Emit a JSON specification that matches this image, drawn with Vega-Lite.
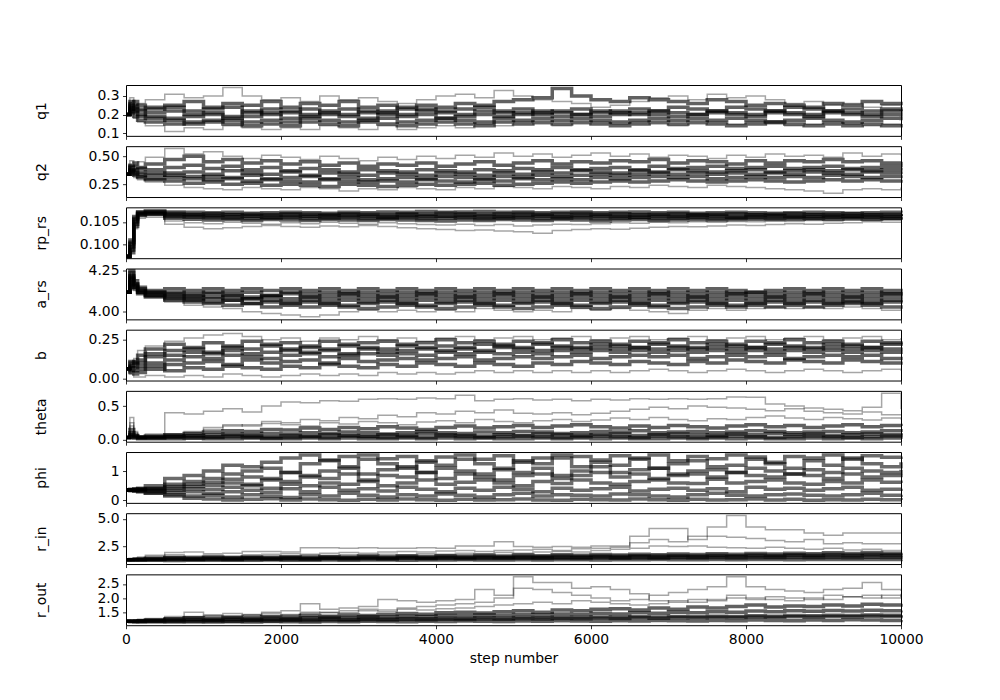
{
"$schema":"https://vega.github.io/schema/vega-lite/v6.json",
"background":"white",
"padding":{"left":33,"top":81,"right":0,"bottom":0},
"spacing":10.17,
"bounds":"flush",
"config":{
"font":"DejaVu Sans",
"view":{"stroke":"black","strokeWidth":1},
"axis":{"domain":false,"grid":false,"ticks":true,"tickColor":"black","tickSize":3.5,"tickWidth":0.8,"labelColor":"black","labelFont":"DejaVu Sans","labelFontSize":13.9,"labelPadding":3.5,"labelOverlap":false,"labelFlush":false,"labelBound":false,"titleColor":"black","titleFont":"DejaVu Sans","titleFontSize":13.9,"titleFontWeight":"normal"},
"axisY":{"titleAngle":270,"titleX":-85,"titleY":25.4,"titleAlign":"center","titleBaseline":"middle","titlePadding":0},
"line":{"color":"black","interpolate":"step-after","clip":true}
},
"datasets":{
"q1":[
{"s":0,"a":0.2,"b":0.2,"c":0.2,"d":0.2,"e":0.2,"f":0.2,"g":0.2,"h":0.2},
{"s":50,"a":0.29,"b":0.26,"c":0.24,"d":0.27,"e":0.22,"f":0.25,"g":0.23,"h":0.21},
{"s":100,"a":0.25,"b":0.27,"c":0.22,"d":0.23,"e":0.19,"f":0.21,"g":0.24,"h":0.18},
{"s":150,"a":0.26,"b":0.23,"c":0.2,"d":0.22,"e":0.17,"f":0.19,"g":0.25,"h":0.16},
{"s":250,"a":0.28,"b":0.24,"c":0.21,"d":0.19,"e":0.16,"f":0.18,"g":0.23,"h":0.14},
{"s":500,"a":0.31,"b":0.25,"c":0.22,"d":0.18,"e":0.15,"f":0.17,"g":0.24,"h":0.11},
{"s":750,"a":0.29,"b":0.27,"c":0.2,"d":0.19,"e":0.16,"f":0.15,"g":0.22,"h":0.13},
{"s":1000,"a":0.3,"b":0.24,"c":0.21,"d":0.2,"e":0.17,"f":0.16,"g":0.23,"h":0.12},
{"s":1250,"a":0.345,"b":0.26,"c":0.19,"d":0.18,"e":0.15,"f":0.17,"g":0.24,"h":0.14},
{"s":1500,"a":0.3,"b":0.25,"c":0.22,"d":0.19,"e":0.16,"f":0.14,"g":0.21,"h":0.13},
{"s":1750,"a":0.28,"b":0.27,"c":0.2,"d":0.21,"e":0.17,"f":0.15,"g":0.23,"h":0.12},
{"s":2000,"a":0.29,"b":0.24,"c":0.21,"d":0.18,"e":0.16,"f":0.14,"g":0.22,"h":0.13},
{"s":2250,"a":0.27,"b":0.26,"c":0.23,"d":0.19,"e":0.18,"f":0.16,"g":0.2,"h":0.12},
{"s":2500,"a":0.3,"b":0.25,"c":0.21,"d":0.2,"e":0.17,"f":0.15,"g":0.22,"h":0.14},
{"s":2750,"a":0.28,"b":0.27,"c":0.2,"d":0.19,"e":0.16,"f":0.14,"g":0.23,"h":0.13},
{"s":3000,"a":0.29,"b":0.24,"c":0.22,"d":0.18,"e":0.17,"f":0.16,"g":0.21,"h":0.12},
{"s":3250,"a":0.27,"b":0.25,"c":0.21,"d":0.2,"e":0.18,"f":0.15,"g":0.22,"h":0.14},
{"s":3500,"a":0.26,"b":0.23,"c":0.2,"d":0.19,"e":0.16,"f":0.14,"g":0.24,"h":0.12},
{"s":3750,"a":0.28,"b":0.25,"c":0.22,"d":0.2,"e":0.17,"f":0.15,"g":0.23,"h":0.13},
{"s":4000,"a":0.3,"b":0.24,"c":0.21,"d":0.18,"e":0.18,"f":0.16,"g":0.22,"h":0.14},
{"s":4250,"a":0.31,"b":0.26,"c":0.2,"d":0.19,"e":0.17,"f":0.15,"g":0.23,"h":0.13},
{"s":4500,"a":0.29,"b":0.25,"c":0.22,"d":0.2,"e":0.16,"f":0.14,"g":0.24,"h":0.15},
{"s":4750,"a":0.33,"b":0.27,"c":0.21,"d":0.19,"e":0.18,"f":0.16,"g":0.22,"h":0.14},
{"s":5000,"a":0.3,"b":0.28,"c":0.2,"d":0.21,"e":0.17,"f":0.15,"g":0.23,"h":0.16},
{"s":5250,"a":0.28,"b":0.29,"c":0.22,"d":0.2,"e":0.18,"f":0.16,"g":0.21,"h":0.15},
{"s":5500,"a":0.27,"b":0.34,"c":0.21,"d":0.19,"e":0.17,"f":0.15,"g":0.22,"h":0.14},
{"s":5750,"a":0.26,"b":0.3,"c":0.2,"d":0.2,"e":0.18,"f":0.16,"g":0.23,"h":0.15},
{"s":6000,"a":0.24,"b":0.28,"c":0.22,"d":0.19,"e":0.17,"f":0.15,"g":0.21,"h":0.16},
{"s":6250,"a":0.25,"b":0.27,"c":0.21,"d":0.2,"e":0.16,"f":0.14,"g":0.22,"h":0.15},
{"s":6500,"a":0.27,"b":0.29,"c":0.2,"d":0.21,"e":0.17,"f":0.15,"g":0.23,"h":0.16},
{"s":6750,"a":0.29,"b":0.28,"c":0.22,"d":0.2,"e":0.18,"f":0.16,"g":0.22,"h":0.15},
{"s":7000,"a":0.3,"b":0.27,"c":0.21,"d":0.19,"e":0.17,"f":0.15,"g":0.24,"h":0.14},
{"s":7250,"a":0.28,"b":0.26,"c":0.2,"d":0.2,"e":0.18,"f":0.16,"g":0.23,"h":0.15},
{"s":7500,"a":0.31,"b":0.28,"c":0.22,"d":0.21,"e":0.17,"f":0.15,"g":0.22,"h":0.16},
{"s":7750,"a":0.29,"b":0.27,"c":0.21,"d":0.2,"e":0.18,"f":0.14,"g":0.24,"h":0.15},
{"s":8000,"a":0.3,"b":0.25,"c":0.2,"d":0.19,"e":0.17,"f":0.15,"g":0.23,"h":0.16},
{"s":8250,"a":0.28,"b":0.26,"c":0.22,"d":0.21,"e":0.16,"f":0.16,"g":0.22,"h":0.15},
{"s":8500,"a":0.26,"b":0.25,"c":0.21,"d":0.2,"e":0.17,"f":0.15,"g":0.24,"h":0.14},
{"s":8750,"a":0.27,"b":0.24,"c":0.2,"d":0.19,"e":0.18,"f":0.14,"g":0.23,"h":0.15},
{"s":9000,"a":0.25,"b":0.26,"c":0.22,"d":0.21,"e":0.17,"f":0.15,"g":0.22,"h":0.16},
{"s":9250,"a":0.26,"b":0.25,"c":0.21,"d":0.2,"e":0.16,"f":0.14,"g":0.23,"h":0.15},
{"s":9500,"a":0.24,"b":0.27,"c":0.2,"d":0.19,"e":0.17,"f":0.15,"g":0.22,"h":0.14},
{"s":9750,"a":0.25,"b":0.26,"c":0.22,"d":0.2,"e":0.18,"f":0.14,"g":0.23,"h":0.15},
{"s":10000,"a":0.24,"b":0.25,"c":0.21,"d":0.19,"e":0.17,"f":0.15,"g":0.22,"h":0.14}
],
"q2":[
{"s":0,"a":0.34,"b":0.34,"c":0.34,"d":0.34,"e":0.34,"f":0.34,"g":0.34,"h":0.34},
{"s":50,"a":0.46,"b":0.42,"c":0.4,"d":0.38,"e":0.36,"f":0.41,"g":0.37,"h":0.35},
{"s":100,"a":0.42,"b":0.44,"c":0.37,"d":0.35,"e":0.33,"f":0.38,"g":0.34,"h":0.31},
{"s":150,"a":0.45,"b":0.4,"c":0.39,"d":0.34,"e":0.31,"f":0.36,"g":0.32,"h":0.29},
{"s":250,"a":0.49,"b":0.43,"c":0.38,"d":0.33,"e":0.3,"f":0.35,"g":0.29,"h":0.27},
{"s":500,"a":0.57,"b":0.47,"c":0.4,"d":0.35,"e":0.31,"f":0.33,"g":0.28,"h":0.24},
{"s":750,"a":0.52,"b":0.5,"c":0.42,"d":0.36,"e":0.3,"f":0.32,"g":0.26,"h":0.22},
{"s":1000,"a":0.54,"b":0.45,"c":0.39,"d":0.34,"e":0.32,"f":0.29,"g":0.27,"h":0.21},
{"s":1250,"a":0.5,"b":0.47,"c":0.41,"d":0.37,"e":0.31,"f":0.3,"g":0.25,"h":0.2},
{"s":1500,"a":0.48,"b":0.44,"c":0.38,"d":0.35,"e":0.33,"f":0.28,"g":0.26,"h":0.22},
{"s":1750,"a":0.51,"b":0.46,"c":0.4,"d":0.34,"e":0.3,"f":0.29,"g":0.24,"h":0.21},
{"s":2000,"a":0.49,"b":0.43,"c":0.37,"d":0.36,"e":0.31,"f":0.28,"g":0.25,"h":0.2},
{"s":2250,"a":0.47,"b":0.45,"c":0.39,"d":0.33,"e":0.32,"f":0.27,"g":0.24,"h":0.22},
{"s":2500,"a":0.5,"b":0.42,"c":0.38,"d":0.35,"e":0.3,"f":0.29,"g":0.23,"h":0.21},
{"s":2750,"a":0.48,"b":0.44,"c":0.36,"d":0.34,"e":0.31,"f":0.28,"g":0.25,"h":0.19},
{"s":3000,"a":0.46,"b":0.41,"c":0.38,"d":0.33,"e":0.29,"f":0.27,"g":0.24,"h":0.21},
{"s":3250,"a":0.49,"b":0.43,"c":0.37,"d":0.35,"e":0.3,"f":0.28,"g":0.23,"h":0.2},
{"s":3500,"a":0.47,"b":0.42,"c":0.36,"d":0.34,"e":0.31,"f":0.27,"g":0.24,"h":0.22},
{"s":3750,"a":0.5,"b":0.44,"c":0.38,"d":0.33,"e":0.3,"f":0.29,"g":0.25,"h":0.21},
{"s":4000,"a":0.48,"b":0.41,"c":0.37,"d":0.35,"e":0.32,"f":0.28,"g":0.24,"h":0.2},
{"s":4250,"a":0.51,"b":0.43,"c":0.36,"d":0.34,"e":0.31,"f":0.27,"g":0.25,"h":0.22},
{"s":4500,"a":0.49,"b":0.45,"c":0.38,"d":0.33,"e":0.3,"f":0.29,"g":0.26,"h":0.21},
{"s":4750,"a":0.53,"b":0.42,"c":0.37,"d":0.35,"e":0.32,"f":0.28,"g":0.24,"h":0.23},
{"s":5000,"a":0.5,"b":0.44,"c":0.39,"d":0.34,"e":0.31,"f":0.3,"g":0.25,"h":0.22},
{"s":5250,"a":0.52,"b":0.46,"c":0.38,"d":0.36,"e":0.33,"f":0.29,"g":0.26,"h":0.21},
{"s":5500,"a":0.49,"b":0.43,"c":0.4,"d":0.35,"e":0.32,"f":0.3,"g":0.27,"h":0.23},
{"s":5750,"a":0.51,"b":0.45,"c":0.38,"d":0.37,"e":0.33,"f":0.29,"g":0.26,"h":0.22},
{"s":6000,"a":0.53,"b":0.44,"c":0.39,"d":0.36,"e":0.34,"f":0.31,"g":0.27,"h":0.21},
{"s":6250,"a":0.5,"b":0.46,"c":0.4,"d":0.35,"e":0.33,"f":0.3,"g":0.28,"h":0.23},
{"s":6500,"a":0.52,"b":0.45,"c":0.38,"d":0.37,"e":0.34,"f":0.31,"g":0.27,"h":0.22},
{"s":6750,"a":0.49,"b":0.47,"c":0.41,"d":0.36,"e":0.35,"f":0.32,"g":0.28,"h":0.24},
{"s":7000,"a":0.51,"b":0.44,"c":0.39,"d":0.38,"e":0.34,"f":0.31,"g":0.29,"h":0.23},
{"s":7250,"a":0.5,"b":0.46,"c":0.4,"d":0.37,"e":0.35,"f":0.32,"g":0.28,"h":0.22},
{"s":7500,"a":0.48,"b":0.45,"c":0.41,"d":0.36,"e":0.34,"f":0.3,"g":0.27,"h":0.24},
{"s":7750,"a":0.51,"b":0.43,"c":0.39,"d":0.37,"e":0.35,"f":0.31,"g":0.28,"h":0.23},
{"s":8000,"a":0.49,"b":0.46,"c":0.4,"d":0.38,"e":0.34,"f":0.32,"g":0.29,"h":0.22},
{"s":8250,"a":0.52,"b":0.44,"c":0.41,"d":0.36,"e":0.35,"f":0.31,"g":0.28,"h":0.21},
{"s":8500,"a":0.5,"b":0.46,"c":0.39,"d":0.37,"e":0.34,"f":0.32,"g":0.27,"h":0.2},
{"s":8750,"a":0.51,"b":0.45,"c":0.4,"d":0.38,"e":0.36,"f":0.31,"g":0.28,"h":0.19},
{"s":9000,"a":0.49,"b":0.47,"c":0.41,"d":0.37,"e":0.35,"f":0.33,"g":0.29,"h":0.17},
{"s":9250,"a":0.53,"b":0.45,"c":0.39,"d":0.38,"e":0.34,"f":0.32,"g":0.28,"h":0.2},
{"s":9500,"a":0.5,"b":0.46,"c":0.4,"d":0.37,"e":0.36,"f":0.31,"g":0.29,"h":0.21},
{"s":9750,"a":0.52,"b":0.44,"c":0.41,"d":0.38,"e":0.35,"f":0.32,"g":0.28,"h":0.2},
{"s":10000,"a":0.51,"b":0.45,"c":0.4,"d":0.37,"e":0.34,"f":0.33,"g":0.29,"h":0.22}
],
"rp":[
{"s":0,"a":0.0974,"b":0.0973,"c":0.0975,"d":0.0974,"e":0.0973,"f":0.0974,"g":0.0975,"h":0.0974},
{"s":50,"a":0.1002,"b":0.0988,"c":0.101,"d":0.0995,"e":0.0982,"f":0.1005,"g":0.0992,"h":0.0985},
{"s":100,"a":0.1058,"b":0.1045,"c":0.1062,"d":0.105,"e":0.104,"f":0.1055,"g":0.1048,"h":0.1035},
{"s":150,"a":0.1071,"b":0.1068,"c":0.1072,"d":0.1066,"e":0.1064,"f":0.1069,"g":0.1063,"h":0.1058},
{"s":250,"a":0.1074,"b":0.1071,"c":0.1073,"d":0.1069,"e":0.1067,"f":0.1068,"g":0.1064,"h":0.106},
{"s":500,"a":0.1072,"b":0.1069,"c":0.1066,"d":0.1064,"e":0.1061,"f":0.1058,"g":0.1052,"h":0.1045},
{"s":750,"a":0.1071,"b":0.1067,"c":0.1065,"d":0.1063,"e":0.106,"f":0.1056,"g":0.1048,"h":0.1038},
{"s":1000,"a":0.107,"b":0.1068,"c":0.1064,"d":0.1062,"e":0.1059,"f":0.1054,"g":0.1046,"h":0.1035},
{"s":1250,"a":0.1071,"b":0.1066,"c":0.1065,"d":0.1061,"e":0.1058,"f":0.1055,"g":0.1049,"h":0.1037},
{"s":1500,"a":0.1069,"b":0.1067,"c":0.1063,"d":0.1062,"e":0.1057,"f":0.1053,"g":0.1047,"h":0.104},
{"s":1750,"a":0.107,"b":0.1066,"c":0.1064,"d":0.106,"e":0.1058,"f":0.1055,"g":0.1045,"h":0.1042},
{"s":2000,"a":0.1071,"b":0.1068,"c":0.1065,"d":0.1061,"e":0.1059,"f":0.1054,"g":0.1048,"h":0.104},
{"s":2250,"a":0.107,"b":0.1067,"c":0.1063,"d":0.1062,"e":0.1057,"f":0.1053,"g":0.1046,"h":0.1038},
{"s":2500,"a":0.1069,"b":0.1066,"c":0.1064,"d":0.1061,"e":0.1058,"f":0.1055,"g":0.1049,"h":0.1041},
{"s":2750,"a":0.1071,"b":0.1068,"c":0.1065,"d":0.1062,"e":0.1059,"f":0.1054,"g":0.1047,"h":0.1039},
{"s":3000,"a":0.107,"b":0.1067,"c":0.1064,"d":0.1061,"e":0.1057,"f":0.1053,"g":0.1045,"h":0.1042},
{"s":3250,"a":0.1072,"b":0.1066,"c":0.1063,"d":0.106,"e":0.1058,"f":0.1055,"g":0.1048,"h":0.104},
{"s":3500,"a":0.1071,"b":0.1068,"c":0.1065,"d":0.1062,"e":0.1059,"f":0.1054,"g":0.1046,"h":0.1037},
{"s":3750,"a":0.1073,"b":0.1067,"c":0.1064,"d":0.1061,"e":0.1057,"f":0.1053,"g":0.1044,"h":0.1035},
{"s":4000,"a":0.1071,"b":0.1069,"c":0.1063,"d":0.1062,"e":0.1058,"f":0.1052,"g":0.1043,"h":0.1033},
{"s":4250,"a":0.1072,"b":0.1068,"c":0.1065,"d":0.1061,"e":0.1059,"f":0.1054,"g":0.1045,"h":0.1031},
{"s":4500,"a":0.1073,"b":0.1067,"c":0.1064,"d":0.106,"e":0.1057,"f":0.1053,"g":0.1042,"h":0.1032},
{"s":4750,"a":0.1071,"b":0.1068,"c":0.1063,"d":0.1062,"e":0.1058,"f":0.1055,"g":0.1044,"h":0.103},
{"s":5000,"a":0.1072,"b":0.1069,"c":0.1065,"d":0.1061,"e":0.1059,"f":0.1054,"g":0.1041,"h":0.1028},
{"s":5250,"a":0.107,"b":0.1067,"c":0.1064,"d":0.1062,"e":0.1057,"f":0.1053,"g":0.1043,"h":0.1025},
{"s":5500,"a":0.1071,"b":0.1068,"c":0.1063,"d":0.1061,"e":0.1058,"f":0.1055,"g":0.1045,"h":0.1031},
{"s":5750,"a":0.1072,"b":0.1069,"c":0.1065,"d":0.1062,"e":0.1059,"f":0.1054,"g":0.1044,"h":0.1033},
{"s":6000,"a":0.107,"b":0.1067,"c":0.1064,"d":0.1061,"e":0.1057,"f":0.1052,"g":0.1046,"h":0.1035},
{"s":6250,"a":0.1071,"b":0.1068,"c":0.1063,"d":0.1062,"e":0.1058,"f":0.1054,"g":0.1048,"h":0.1034},
{"s":6500,"a":0.1072,"b":0.1066,"c":0.1065,"d":0.106,"e":0.1059,"f":0.1055,"g":0.1047,"h":0.1036},
{"s":6750,"a":0.107,"b":0.1067,"c":0.1064,"d":0.1061,"e":0.1057,"f":0.1053,"g":0.1049,"h":0.1038},
{"s":7000,"a":0.1071,"b":0.1068,"c":0.1063,"d":0.1062,"e":0.1058,"f":0.1054,"g":0.1048,"h":0.104},
{"s":7250,"a":0.1069,"b":0.1066,"c":0.1065,"d":0.1061,"e":0.1059,"f":0.1055,"g":0.105,"h":0.1039},
{"s":7500,"a":0.107,"b":0.1067,"c":0.1064,"d":0.1062,"e":0.1057,"f":0.1054,"g":0.1049,"h":0.1041},
{"s":7750,"a":0.1071,"b":0.1068,"c":0.1063,"d":0.106,"e":0.1058,"f":0.1055,"g":0.1051,"h":0.1043},
{"s":8000,"a":0.107,"b":0.1066,"c":0.1065,"d":0.1061,"e":0.1059,"f":0.1056,"g":0.105,"h":0.1042},
{"s":8250,"a":0.1069,"b":0.1067,"c":0.1064,"d":0.1062,"e":0.1058,"f":0.1055,"g":0.1052,"h":0.1044},
{"s":8500,"a":0.107,"b":0.1068,"c":0.1063,"d":0.1061,"e":0.1059,"f":0.1056,"g":0.1051,"h":0.1046},
{"s":8750,"a":0.1071,"b":0.1066,"c":0.1065,"d":0.1062,"e":0.1058,"f":0.1057,"g":0.1053,"h":0.1045},
{"s":9000,"a":0.107,"b":0.1067,"c":0.1064,"d":0.1061,"e":0.1059,"f":0.1056,"g":0.1052,"h":0.1047},
{"s":9250,"a":0.1069,"b":0.1068,"c":0.1063,"d":0.1062,"e":0.106,"f":0.1057,"g":0.1054,"h":0.1048},
{"s":9500,"a":0.107,"b":0.1066,"c":0.1065,"d":0.1061,"e":0.1059,"f":0.1056,"g":0.1053,"h":0.105},
{"s":9750,"a":0.1071,"b":0.1067,"c":0.1064,"d":0.1062,"e":0.1058,"f":0.1057,"g":0.1055,"h":0.1049},
{"s":10000,"a":0.107,"b":0.1068,"c":0.1063,"d":0.1061,"e":0.106,"f":0.1056,"g":0.1054,"h":0.1051}
],
"ars":[
{"s":0,"a":4.12,"b":4.12,"c":4.12,"d":4.12,"e":4.12,"f":4.12,"g":4.12,"h":4.12},
{"s":50,"a":4.24,"b":4.2,"c":4.25,"d":4.18,"e":4.22,"f":4.16,"g":4.21,"h":4.19},
{"s":100,"a":4.17,"b":4.19,"c":4.15,"d":4.16,"e":4.14,"f":4.15,"g":4.17,"h":4.13},
{"s":150,"a":4.14,"b":4.15,"c":4.13,"d":4.12,"e":4.13,"f":4.11,"g":4.12,"h":4.11},
{"s":250,"a":4.13,"b":4.12,"c":4.12,"d":4.11,"e":4.1,"f":4.1,"g":4.09,"h":4.09},
{"s":500,"a":4.14,"b":4.12,"c":4.11,"d":4.1,"e":4.09,"f":4.08,"g":4.07,"h":4.06},
{"s":750,"a":4.13,"b":4.11,"c":4.1,"d":4.09,"e":4.08,"f":4.07,"g":4.06,"h":4.04},
{"s":1000,"a":4.14,"b":4.12,"c":4.11,"d":4.08,"e":4.09,"f":4.06,"g":4.05,"h":4.03},
{"s":1250,"a":4.13,"b":4.11,"c":4.1,"d":4.09,"e":4.07,"f":4.07,"g":4.04,"h":4.02},
{"s":1500,"a":4.14,"b":4.12,"c":4.09,"d":4.08,"e":4.08,"f":4.05,"g":4.05,"h":4.0},
{"s":1750,"a":4.13,"b":4.1,"c":4.1,"d":4.09,"e":4.07,"f":4.06,"g":4.03,"h":3.99},
{"s":2000,"a":4.14,"b":4.12,"c":4.11,"d":4.08,"e":4.06,"f":4.05,"g":4.04,"h":3.98},
{"s":2250,"a":4.13,"b":4.11,"c":4.09,"d":4.09,"e":4.07,"f":4.06,"g":4.03,"h":3.97},
{"s":2500,"a":4.14,"b":4.12,"c":4.1,"d":4.08,"e":4.06,"f":4.05,"g":4.04,"h":3.98},
{"s":2750,"a":4.13,"b":4.11,"c":4.11,"d":4.09,"e":4.07,"f":4.04,"g":4.03,"h":4.0},
{"s":3000,"a":4.14,"b":4.12,"c":4.1,"d":4.08,"e":4.06,"f":4.05,"g":4.02,"h":4.01},
{"s":3250,"a":4.13,"b":4.11,"c":4.09,"d":4.09,"e":4.07,"f":4.06,"g":4.03,"h":4.0},
{"s":3500,"a":4.14,"b":4.12,"c":4.1,"d":4.08,"e":4.06,"f":4.05,"g":4.04,"h":4.01},
{"s":3750,"a":4.13,"b":4.11,"c":4.11,"d":4.09,"e":4.07,"f":4.04,"g":4.03,"h":4.0},
{"s":4000,"a":4.14,"b":4.12,"c":4.1,"d":4.08,"e":4.06,"f":4.05,"g":4.02,"h":4.01},
{"s":4250,"a":4.13,"b":4.11,"c":4.09,"d":4.09,"e":4.07,"f":4.06,"g":4.03,"h":4.0},
{"s":4500,"a":4.14,"b":4.12,"c":4.1,"d":4.08,"e":4.06,"f":4.05,"g":4.04,"h":4.02},
{"s":4750,"a":4.13,"b":4.11,"c":4.11,"d":4.09,"e":4.07,"f":4.04,"g":4.03,"h":4.01},
{"s":5000,"a":4.14,"b":4.12,"c":4.1,"d":4.08,"e":4.06,"f":4.05,"g":4.02,"h":4.0},
{"s":5250,"a":4.13,"b":4.11,"c":4.09,"d":4.09,"e":4.07,"f":4.06,"g":4.03,"h":4.01},
{"s":5500,"a":4.14,"b":4.12,"c":4.1,"d":4.08,"e":4.06,"f":4.05,"g":4.04,"h":4.0},
{"s":5750,"a":4.13,"b":4.11,"c":4.11,"d":4.09,"e":4.07,"f":4.04,"g":4.03,"h":4.02},
{"s":6000,"a":4.14,"b":4.12,"c":4.1,"d":4.08,"e":4.06,"f":4.05,"g":4.02,"h":4.01},
{"s":6250,"a":4.13,"b":4.11,"c":4.09,"d":4.09,"e":4.07,"f":4.06,"g":4.03,"h":4.02},
{"s":6500,"a":4.14,"b":4.12,"c":4.1,"d":4.08,"e":4.06,"f":4.05,"g":4.04,"h":4.01},
{"s":6750,"a":4.13,"b":4.11,"c":4.11,"d":4.09,"e":4.07,"f":4.04,"g":4.03,"h":4.0},
{"s":7000,"a":4.14,"b":4.12,"c":4.1,"d":4.08,"e":4.06,"f":4.05,"g":4.02,"h":3.99},
{"s":7250,"a":4.13,"b":4.11,"c":4.09,"d":4.09,"e":4.07,"f":4.06,"g":4.03,"h":4.01},
{"s":7500,"a":4.14,"b":4.12,"c":4.1,"d":4.08,"e":4.06,"f":4.05,"g":4.04,"h":4.02},
{"s":7750,"a":4.13,"b":4.11,"c":4.11,"d":4.09,"e":4.07,"f":4.04,"g":4.03,"h":4.01},
{"s":8000,"a":4.12,"b":4.12,"c":4.1,"d":4.08,"e":4.06,"f":4.05,"g":4.04,"h":4.02},
{"s":8250,"a":4.13,"b":4.11,"c":4.09,"d":4.09,"e":4.07,"f":4.06,"g":4.03,"h":4.03},
{"s":8500,"a":4.14,"b":4.12,"c":4.1,"d":4.08,"e":4.06,"f":4.05,"g":4.04,"h":4.02},
{"s":8750,"a":4.13,"b":4.11,"c":4.11,"d":4.09,"e":4.07,"f":4.06,"g":4.03,"h":4.03},
{"s":9000,"a":4.14,"b":4.12,"c":4.1,"d":4.08,"e":4.06,"f":4.05,"g":4.04,"h":4.02},
{"s":9250,"a":4.13,"b":4.11,"c":4.09,"d":4.09,"e":4.07,"f":4.06,"g":4.05,"h":4.03},
{"s":9500,"a":4.14,"b":4.12,"c":4.1,"d":4.08,"e":4.06,"f":4.05,"g":4.04,"h":4.02},
{"s":9750,"a":4.13,"b":4.11,"c":4.11,"d":4.09,"e":4.07,"f":4.06,"g":4.03,"h":4.01},
{"s":10000,"a":4.14,"b":4.12,"c":4.1,"d":4.08,"e":4.06,"f":4.05,"g":4.04,"h":4.02}
],
"b":[
{"s":0,"a":0.064,"b":0.064,"c":0.064,"d":0.064,"e":0.064,"f":0.064,"g":0.064,"h":0.064},
{"s":50,"a":0.09,"b":0.1,"c":0.05,"d":0.08,"e":0.11,"f":0.04,"g":0.07,"h":0.03},
{"s":100,"a":0.13,"b":0.11,"c":0.07,"d":0.1,"e":0.09,"f":0.03,"g":0.05,"h":0.01},
{"s":150,"a":0.18,"b":0.15,"c":0.1,"d":0.12,"e":0.08,"f":0.04,"g":0.06,"h":0.01},
{"s":250,"a":0.21,"b":0.19,"c":0.14,"d":0.16,"e":0.1,"f":0.06,"g":0.08,"h":0.02},
{"s":500,"a":0.24,"b":0.22,"c":0.18,"d":0.15,"e":0.12,"f":0.09,"g":0.05,"h":0.01},
{"s":750,"a":0.26,"b":0.2,"c":0.19,"d":0.17,"e":0.14,"f":0.1,"g":0.07,"h":0.02},
{"s":1000,"a":0.28,"b":0.23,"c":0.17,"d":0.16,"e":0.13,"f":0.11,"g":0.06,"h":0.01},
{"s":1250,"a":0.29,"b":0.21,"c":0.2,"d":0.18,"e":0.15,"f":0.09,"g":0.08,"h":0.03},
{"s":1500,"a":0.27,"b":0.24,"c":0.19,"d":0.16,"e":0.14,"f":0.12,"g":0.07,"h":0.02},
{"s":1750,"a":0.25,"b":0.22,"c":0.21,"d":0.17,"e":0.13,"f":0.1,"g":0.06,"h":0.01},
{"s":2000,"a":0.26,"b":0.23,"c":0.18,"d":0.19,"e":0.15,"f":0.11,"g":0.08,"h":0.02},
{"s":2250,"a":0.24,"b":0.21,"c":0.2,"d":0.17,"e":0.16,"f":0.12,"g":0.07,"h":0.03},
{"s":2500,"a":0.26,"b":0.24,"c":0.19,"d":0.18,"e":0.14,"f":0.1,"g":0.09,"h":0.02},
{"s":2750,"a":0.25,"b":0.22,"c":0.21,"d":0.16,"e":0.15,"f":0.13,"g":0.08,"h":0.03},
{"s":3000,"a":0.27,"b":0.23,"c":0.2,"d":0.19,"e":0.16,"f":0.11,"g":0.07,"h":0.02},
{"s":3250,"a":0.25,"b":0.24,"c":0.19,"d":0.17,"e":0.15,"f":0.12,"g":0.09,"h":0.04},
{"s":3500,"a":0.26,"b":0.22,"c":0.21,"d":0.18,"e":0.16,"f":0.13,"g":0.08,"h":0.03},
{"s":3750,"a":0.24,"b":0.23,"c":0.2,"d":0.19,"e":0.15,"f":0.12,"g":0.1,"h":0.04},
{"s":4000,"a":0.26,"b":0.25,"c":0.21,"d":0.18,"e":0.17,"f":0.13,"g":0.09,"h":0.03},
{"s":4250,"a":0.27,"b":0.23,"c":0.2,"d":0.19,"e":0.16,"f":0.14,"g":0.08,"h":0.04},
{"s":4500,"a":0.25,"b":0.24,"c":0.22,"d":0.18,"e":0.17,"f":0.12,"g":0.1,"h":0.05},
{"s":4750,"a":0.26,"b":0.22,"c":0.21,"d":0.2,"e":0.16,"f":0.13,"g":0.09,"h":0.04},
{"s":5000,"a":0.27,"b":0.24,"c":0.2,"d":0.19,"e":0.17,"f":0.14,"g":0.08,"h":0.05},
{"s":5250,"a":0.25,"b":0.23,"c":0.22,"d":0.18,"e":0.16,"f":0.13,"g":0.1,"h":0.04},
{"s":5500,"a":0.26,"b":0.25,"c":0.21,"d":0.2,"e":0.18,"f":0.14,"g":0.09,"h":0.05},
{"s":5750,"a":0.27,"b":0.23,"c":0.2,"d":0.19,"e":0.17,"f":0.15,"g":0.11,"h":0.04},
{"s":6000,"a":0.25,"b":0.24,"c":0.22,"d":0.2,"e":0.18,"f":0.13,"g":0.1,"h":0.05},
{"s":6250,"a":0.26,"b":0.22,"c":0.21,"d":0.19,"e":0.17,"f":0.14,"g":0.09,"h":0.04},
{"s":6500,"a":0.27,"b":0.24,"c":0.2,"d":0.2,"e":0.18,"f":0.15,"g":0.11,"h":0.05},
{"s":6750,"a":0.25,"b":0.23,"c":0.22,"d":0.19,"e":0.17,"f":0.14,"g":0.1,"h":0.06},
{"s":7000,"a":0.26,"b":0.25,"c":0.21,"d":0.2,"e":0.18,"f":0.15,"g":0.09,"h":0.05},
{"s":7250,"a":0.27,"b":0.23,"c":0.2,"d":0.19,"e":0.17,"f":0.13,"g":0.11,"h":0.04},
{"s":7500,"a":0.25,"b":0.24,"c":0.22,"d":0.2,"e":0.18,"f":0.14,"g":0.1,"h":0.05},
{"s":7750,"a":0.26,"b":0.22,"c":0.21,"d":0.19,"e":0.17,"f":0.15,"g":0.12,"h":0.06},
{"s":8000,"a":0.27,"b":0.24,"c":0.2,"d":0.2,"e":0.18,"f":0.14,"g":0.11,"h":0.05},
{"s":8250,"a":0.25,"b":0.23,"c":0.22,"d":0.19,"e":0.17,"f":0.15,"g":0.1,"h":0.04},
{"s":8500,"a":0.26,"b":0.25,"c":0.21,"d":0.2,"e":0.18,"f":0.13,"g":0.12,"h":0.05},
{"s":8750,"a":0.27,"b":0.23,"c":0.2,"d":0.19,"e":0.17,"f":0.14,"g":0.11,"h":0.06},
{"s":9000,"a":0.25,"b":0.24,"c":0.22,"d":0.2,"e":0.18,"f":0.15,"g":0.1,"h":0.05},
{"s":9250,"a":0.26,"b":0.22,"c":0.21,"d":0.19,"e":0.17,"f":0.14,"g":0.12,"h":0.04},
{"s":9500,"a":0.27,"b":0.24,"c":0.2,"d":0.2,"e":0.18,"f":0.15,"g":0.11,"h":0.05},
{"s":9750,"a":0.25,"b":0.23,"c":0.22,"d":0.19,"e":0.17,"f":0.13,"g":0.1,"h":0.06},
{"s":10000,"a":0.26,"b":0.24,"c":0.21,"d":0.2,"e":0.18,"f":0.14,"g":0.11,"h":0.05}
],
"theta":[
{"s":0,"a":0.03,"b":0.03,"c":0.03,"d":0.03,"e":0.03,"f":0.03,"g":0.03,"h":0.03},
{"s":50,"a":0.33,"b":0.25,"c":0.2,"d":0.15,"e":0.1,"f":0.07,"g":0.05,"h":0.04},
{"s":100,"a":0.12,"b":0.1,"c":0.08,"d":0.06,"e":0.05,"f":0.04,"g":0.03,"h":0.02},
{"s":150,"a":0.05,"b":0.04,"c":0.03,"d":0.04,"e":0.03,"f":0.03,"g":0.02,"h":0.01},
{"s":250,"a":0.08,"b":0.03,"c":0.05,"d":0.05,"e":0.04,"f":0.03,"g":0.02,"h":0.01},
{"s":500,"a":0.4,"b":0.06,"c":0.08,"d":0.07,"e":0.05,"f":0.04,"g":0.03,"h":0.01},
{"s":750,"a":0.38,"b":0.1,"c":0.12,"d":0.09,"e":0.06,"f":0.05,"g":0.02,"h":0.02},
{"s":1000,"a":0.42,"b":0.15,"c":0.18,"d":0.11,"e":0.07,"f":0.04,"g":0.03,"h":0.01},
{"s":1250,"a":0.46,"b":0.2,"c":0.22,"d":0.13,"e":0.08,"f":0.06,"g":0.04,"h":0.01},
{"s":1500,"a":0.41,"b":0.22,"c":0.2,"d":0.12,"e":0.07,"f":0.05,"g":0.03,"h":0.02},
{"s":1750,"a":0.5,"b":0.27,"c":0.24,"d":0.15,"e":0.09,"f":0.04,"g":0.02,"h":0.01},
{"s":2000,"a":0.56,"b":0.25,"c":0.22,"d":0.14,"e":0.08,"f":0.06,"g":0.03,"h":0.01},
{"s":2250,"a":0.55,"b":0.3,"c":0.2,"d":0.17,"e":0.1,"f":0.05,"g":0.04,"h":0.02},
{"s":2500,"a":0.58,"b":0.28,"c":0.25,"d":0.15,"e":0.09,"f":0.07,"g":0.03,"h":0.01},
{"s":2750,"a":0.57,"b":0.33,"c":0.23,"d":0.18,"e":0.11,"f":0.06,"g":0.05,"h":0.02},
{"s":3000,"a":0.6,"b":0.31,"c":0.27,"d":0.16,"e":0.1,"f":0.05,"g":0.04,"h":0.01},
{"s":3250,"a":0.61,"b":0.36,"c":0.25,"d":0.19,"e":0.08,"f":0.07,"g":0.03,"h":0.01},
{"s":3500,"a":0.6,"b":0.34,"c":0.22,"d":0.17,"e":0.1,"f":0.06,"g":0.04,"h":0.02},
{"s":3750,"a":0.62,"b":0.4,"c":0.26,"d":0.15,"e":0.12,"f":0.08,"g":0.03,"h":0.01},
{"s":4000,"a":0.61,"b":0.38,"c":0.28,"d":0.18,"e":0.1,"f":0.07,"g":0.05,"h":0.02},
{"s":4250,"a":0.66,"b":0.42,"c":0.25,"d":0.2,"e":0.09,"f":0.06,"g":0.04,"h":0.01},
{"s":4500,"a":0.58,"b":0.4,"c":0.3,"d":0.17,"e":0.11,"f":0.05,"g":0.03,"h":0.02},
{"s":4750,"a":0.6,"b":0.44,"c":0.27,"d":0.19,"e":0.1,"f":0.07,"g":0.04,"h":0.01},
{"s":5000,"a":0.61,"b":0.39,"c":0.25,"d":0.21,"e":0.12,"f":0.06,"g":0.05,"h":0.01},
{"s":5250,"a":0.59,"b":0.38,"c":0.28,"d":0.18,"e":0.11,"f":0.08,"g":0.04,"h":0.02},
{"s":5500,"a":0.6,"b":0.4,"c":0.3,"d":0.2,"e":0.09,"f":0.07,"g":0.03,"h":0.01},
{"s":5750,"a":0.58,"b":0.37,"c":0.27,"d":0.22,"e":0.1,"f":0.06,"g":0.04,"h":0.02},
{"s":6000,"a":0.6,"b":0.39,"c":0.29,"d":0.19,"e":0.12,"f":0.07,"g":0.05,"h":0.01},
{"s":6250,"a":0.59,"b":0.42,"c":0.32,"d":0.17,"e":0.11,"f":0.08,"g":0.04,"h":0.02},
{"s":6500,"a":0.61,"b":0.45,"c":0.3,"d":0.2,"e":0.13,"f":0.06,"g":0.03,"h":0.01},
{"s":6750,"a":0.6,"b":0.48,"c":0.33,"d":0.18,"e":0.1,"f":0.07,"g":0.05,"h":0.01},
{"s":7000,"a":0.61,"b":0.46,"c":0.3,"d":0.21,"e":0.11,"f":0.08,"g":0.04,"h":0.02},
{"s":7250,"a":0.6,"b":0.5,"c":0.28,"d":0.19,"e":0.12,"f":0.07,"g":0.03,"h":0.01},
{"s":7500,"a":0.61,"b":0.48,"c":0.31,"d":0.17,"e":0.1,"f":0.06,"g":0.04,"h":0.02},
{"s":7750,"a":0.635,"b":0.47,"c":0.3,"d":0.2,"e":0.11,"f":0.08,"g":0.05,"h":0.01},
{"s":8000,"a":0.63,"b":0.45,"c":0.33,"d":0.22,"e":0.13,"f":0.07,"g":0.04,"h":0.02},
{"s":8250,"a":0.53,"b":0.43,"c":0.35,"d":0.19,"e":0.12,"f":0.09,"g":0.03,"h":0.01},
{"s":8500,"a":0.5,"b":0.46,"c":0.32,"d":0.21,"e":0.1,"f":0.07,"g":0.04,"h":0.01},
{"s":8750,"a":0.47,"b":0.42,"c":0.3,"d":0.18,"e":0.11,"f":0.08,"g":0.05,"h":0.02},
{"s":9000,"a":0.45,"b":0.4,"c":0.33,"d":0.2,"e":0.12,"f":0.06,"g":0.04,"h":0.01},
{"s":9250,"a":0.43,"b":0.38,"c":0.31,"d":0.22,"e":0.1,"f":0.07,"g":0.03,"h":0.02},
{"s":9500,"a":0.48,"b":0.41,"c":0.29,"d":0.19,"e":0.11,"f":0.08,"g":0.04,"h":0.01},
{"s":9750,"a":0.69,"b":0.37,"c":0.32,"d":0.21,"e":0.13,"f":0.07,"g":0.05,"h":0.02},
{"s":10000,"a":0.45,"b":0.36,"c":0.3,"d":0.2,"e":0.11,"f":0.06,"g":0.04,"h":0.01}
],
"phi":[
{"s":0,"a":0.36,"b":0.36,"c":0.36,"d":0.36,"e":0.36,"f":0.36,"g":0.36,"h":0.36},
{"s":50,"a":0.38,"b":0.35,"c":0.37,"d":0.36,"e":0.34,"f":0.35,"g":0.34,"h":0.35},
{"s":100,"a":0.4,"b":0.37,"c":0.35,"d":0.38,"e":0.35,"f":0.33,"g":0.32,"h":0.34},
{"s":150,"a":0.42,"b":0.4,"c":0.38,"d":0.37,"e":0.36,"f":0.32,"g":0.3,"h":0.31},
{"s":250,"a":0.5,"b":0.42,"c":0.4,"d":0.38,"e":0.34,"f":0.3,"g":0.26,"h":0.25},
{"s":500,"a":0.75,"b":0.55,"c":0.48,"d":0.42,"e":0.35,"f":0.28,"g":0.2,"h":0.15},
{"s":750,"a":0.85,"b":0.65,"c":0.55,"d":0.48,"e":0.4,"f":0.3,"g":0.15,"h":0.08},
{"s":1000,"a":1.0,"b":0.75,"c":0.62,"d":0.52,"e":0.38,"f":0.25,"g":0.18,"h":0.05},
{"s":1250,"a":1.2,"b":0.9,"c":0.72,"d":0.6,"e":0.45,"f":0.3,"g":0.12,"h":0.02},
{"s":1500,"a":1.15,"b":1.0,"c":0.8,"d":0.55,"e":0.5,"f":0.35,"g":0.2,"h":0.04},
{"s":1750,"a":1.3,"b":1.1,"c":0.75,"d":0.7,"e":0.42,"f":0.28,"g":0.15,"h":0.06},
{"s":2000,"a":1.45,"b":0.95,"c":0.95,"d":0.65,"e":0.55,"f":0.4,"g":0.1,"h":0.02},
{"s":2250,"a":1.55,"b":1.25,"c":0.85,"d":0.8,"e":0.5,"f":0.3,"g":0.2,"h":0.05},
{"s":2500,"a":1.38,"b":1.35,"c":1.0,"d":0.75,"e":0.6,"f":0.45,"g":0.15,"h":0.03},
{"s":2750,"a":1.5,"b":1.15,"c":1.1,"d":0.9,"e":0.55,"f":0.35,"g":0.25,"h":0.01},
{"s":3000,"a":1.55,"b":1.4,"c":0.9,"d":0.7,"e":0.65,"f":0.4,"g":0.18,"h":0.04},
{"s":3250,"a":1.42,"b":1.25,"c":1.05,"d":0.85,"e":0.5,"f":0.32,"g":0.12,"h":0.02},
{"s":3500,"a":1.5,"b":1.1,"c":1.15,"d":0.8,"e":0.6,"f":0.45,"g":0.2,"h":0.05},
{"s":3750,"a":1.35,"b":1.3,"c":0.95,"d":0.95,"e":0.7,"f":0.38,"g":0.15,"h":0.03},
{"s":4000,"a":1.48,"b":1.2,"c":1.1,"d":0.75,"e":0.55,"f":0.3,"g":0.22,"h":0.01},
{"s":4250,"a":1.55,"b":1.4,"c":1.0,"d":0.9,"e":0.62,"f":0.42,"g":0.18,"h":0.04},
{"s":4500,"a":1.4,"b":1.25,"c":0.9,"d":0.8,"e":0.7,"f":0.35,"g":0.12,"h":0.02},
{"s":4750,"a":1.52,"b":1.1,"c":1.05,"d":0.7,"e":0.6,"f":0.45,"g":0.2,"h":0.03},
{"s":5000,"a":1.3,"b":1.35,"c":0.95,"d":0.85,"e":0.5,"f":0.38,"g":0.25,"h":0.05},
{"s":5250,"a":1.45,"b":1.25,"c":1.1,"d":0.9,"e":0.65,"f":0.3,"g":0.15,"h":0.02},
{"s":5500,"a":1.55,"b":1.45,"c":0.85,"d":0.75,"e":0.58,"f":0.42,"g":0.2,"h":0.01},
{"s":5750,"a":1.5,"b":1.15,"c":1.0,"d":0.85,"e":0.7,"f":0.35,"g":0.18,"h":0.04},
{"s":6000,"a":1.38,"b":1.3,"c":1.15,"d":0.95,"e":0.6,"f":0.4,"g":0.15,"h":0.03},
{"s":6250,"a":1.52,"b":1.2,"c":0.95,"d":0.8,"e":0.55,"f":0.45,"g":0.22,"h":0.02},
{"s":6500,"a":1.45,"b":1.4,"c":1.05,"d":0.9,"e":0.65,"f":0.32,"g":0.2,"h":0.05},
{"s":6750,"a":1.55,"b":1.1,"c":1.1,"d":0.75,"e":0.7,"f":0.38,"g":0.15,"h":0.03},
{"s":7000,"a":1.35,"b":1.25,"c":0.9,"d":0.85,"e":0.6,"f":0.42,"g":0.12,"h":0.01},
{"s":7250,"a":1.5,"b":1.35,"c":1.0,"d":0.9,"e":0.58,"f":0.35,"g":0.2,"h":0.04},
{"s":7500,"a":1.42,"b":1.15,"c":1.05,"d":0.8,"e":0.72,"f":0.4,"g":0.25,"h":0.02},
{"s":7750,"a":1.55,"b":1.2,"c":0.95,"d":0.95,"e":0.6,"f":0.3,"g":0.18,"h":0.03},
{"s":8000,"a":1.48,"b":1.4,"c":1.1,"d":0.85,"e":0.65,"f":0.45,"g":0.15,"h":0.05},
{"s":8250,"a":1.3,"b":1.25,"c":1.0,"d":0.8,"e":0.7,"f":0.38,"g":0.2,"h":0.02},
{"s":8500,"a":1.5,"b":1.1,"c":0.9,"d":0.9,"e":0.6,"f":0.42,"g":0.22,"h":0.04},
{"s":8750,"a":1.45,"b":1.35,"c":1.05,"d":0.85,"e":0.55,"f":0.35,"g":0.18,"h":0.01},
{"s":9000,"a":1.55,"b":1.2,"c":0.95,"d":0.75,"e":0.65,"f":0.4,"g":0.15,"h":0.03},
{"s":9250,"a":1.4,"b":1.45,"c":1.1,"d":0.9,"e":0.6,"f":0.45,"g":0.2,"h":0.02},
{"s":9500,"a":1.52,"b":1.25,"c":1.0,"d":0.8,"e":0.7,"f":0.35,"g":0.25,"h":0.04},
{"s":9750,"a":1.47,"b":1.15,"c":0.95,"d":0.85,"e":0.62,"f":0.38,"g":0.18,"h":0.03},
{"s":10000,"a":1.5,"b":1.3,"c":1.05,"d":0.9,"e":0.6,"f":0.4,"g":0.2,"h":0.02}
],
"rin":[
{"s":0,"a":1.25,"b":1.25,"c":1.25,"d":1.25,"e":1.25,"f":1.25,"g":1.25,"h":1.25},
{"s":50,"a":1.3,"b":1.28,"c":1.27,"d":1.26,"e":1.25,"f":1.24,"g":1.24,"h":1.23},
{"s":100,"a":1.4,"b":1.35,"c":1.3,"d":1.28,"e":1.27,"f":1.26,"g":1.25,"h":1.22},
{"s":150,"a":1.5,"b":1.4,"c":1.35,"d":1.3,"e":1.28,"f":1.27,"g":1.25,"h":1.2},
{"s":250,"a":1.65,"b":1.55,"c":1.45,"d":1.35,"e":1.3,"f":1.28,"g":1.26,"h":1.2},
{"s":500,"a":1.9,"b":1.7,"c":1.55,"d":1.45,"e":1.38,"f":1.32,"g":1.28,"h":1.18},
{"s":750,"a":1.95,"b":1.6,"c":1.5,"d":1.4,"e":1.33,"f":1.3,"g":1.27,"h":1.2},
{"s":1000,"a":1.8,"b":1.65,"c":1.55,"d":1.48,"e":1.4,"f":1.34,"g":1.3,"h":1.19},
{"s":1250,"a":1.85,"b":1.6,"c":1.5,"d":1.42,"e":1.36,"f":1.31,"g":1.28,"h":1.21},
{"s":1500,"a":2.0,"b":1.7,"c":1.55,"d":1.5,"e":1.42,"f":1.35,"g":1.31,"h":1.2},
{"s":1750,"a":2.0,"b":1.75,"c":1.6,"d":1.45,"e":1.38,"f":1.33,"g":1.29,"h":1.22},
{"s":2000,"a":1.95,"b":1.8,"c":1.55,"d":1.52,"e":1.44,"f":1.36,"g":1.32,"h":1.21},
{"s":2250,"a":2.35,"b":1.75,"c":1.65,"d":1.48,"e":1.4,"f":1.34,"g":1.3,"h":1.2},
{"s":2500,"a":2.35,"b":1.85,"c":1.6,"d":1.55,"e":1.46,"f":1.38,"g":1.33,"h":1.22},
{"s":2750,"a":2.3,"b":1.9,"c":1.7,"d":1.5,"e":1.42,"f":1.35,"g":1.31,"h":1.21},
{"s":3000,"a":2.35,"b":1.85,"c":1.65,"d":1.58,"e":1.48,"f":1.4,"g":1.34,"h":1.23},
{"s":3250,"a":2.3,"b":1.95,"c":1.75,"d":1.52,"e":1.44,"f":1.37,"g":1.32,"h":1.22},
{"s":3500,"a":2.3,"b":2.0,"c":1.7,"d":1.6,"e":1.5,"f":1.42,"g":1.35,"h":1.21},
{"s":3750,"a":2.35,"b":1.95,"c":1.8,"d":1.55,"e":1.46,"f":1.38,"g":1.33,"h":1.23},
{"s":4000,"a":2.3,"b":2.05,"c":1.75,"d":1.62,"e":1.52,"f":1.44,"g":1.36,"h":1.22},
{"s":4250,"a":2.5,"b":2.1,"c":1.85,"d":1.58,"e":1.48,"f":1.4,"g":1.34,"h":1.24},
{"s":4500,"a":2.5,"b":2.0,"c":1.8,"d":1.65,"e":1.54,"f":1.45,"g":1.37,"h":1.23},
{"s":4750,"a":2.9,"b":2.1,"c":1.9,"d":1.6,"e":1.5,"f":1.42,"g":1.35,"h":1.22},
{"s":5000,"a":2.45,"b":2.15,"c":1.85,"d":1.68,"e":1.56,"f":1.46,"g":1.38,"h":1.24},
{"s":5250,"a":2.4,"b":2.2,"c":1.95,"d":1.62,"e":1.52,"f":1.43,"g":1.36,"h":1.23},
{"s":5500,"a":2.45,"b":2.1,"c":2.0,"d":1.7,"e":1.58,"f":1.48,"g":1.39,"h":1.25},
{"s":5750,"a":2.4,"b":2.25,"c":1.95,"d":1.65,"e":1.54,"f":1.45,"g":1.37,"h":1.24},
{"s":6000,"a":2.5,"b":2.3,"c":2.1,"d":1.72,"e":1.6,"f":1.5,"g":1.4,"h":1.23},
{"s":6250,"a":2.5,"b":2.4,"c":2.2,"d":1.68,"e":1.56,"f":1.46,"g":1.38,"h":1.25},
{"s":6500,"a":3.4,"b":2.8,"c":2.3,"d":1.75,"e":1.62,"f":1.52,"g":1.41,"h":1.24},
{"s":6750,"a":4.1,"b":3.1,"c":2.5,"d":1.7,"e":1.58,"f":1.48,"g":1.39,"h":1.26},
{"s":7000,"a":4.1,"b":2.9,"c":2.45,"d":1.78,"e":1.64,"f":1.53,"g":1.42,"h":1.25},
{"s":7250,"a":3.1,"b":3.4,"c":2.5,"d":1.72,"e":1.6,"f":1.5,"g":1.4,"h":1.24},
{"s":7500,"a":4.25,"b":3.4,"c":2.4,"d":1.8,"e":1.66,"f":1.55,"g":1.43,"h":1.26},
{"s":7750,"a":5.3,"b":3.3,"c":2.35,"d":1.75,"e":1.62,"f":1.51,"g":1.41,"h":1.25},
{"s":8000,"a":4.25,"b":3.2,"c":2.3,"d":1.82,"e":1.68,"f":1.56,"g":1.44,"h":1.27},
{"s":8250,"a":4.0,"b":3.0,"c":2.4,"d":1.78,"e":1.64,"f":1.53,"g":1.42,"h":1.26},
{"s":8500,"a":4.0,"b":2.9,"c":2.3,"d":1.85,"e":1.7,"f":1.58,"g":1.45,"h":1.25},
{"s":8750,"a":3.7,"b":3.1,"c":2.2,"d":1.8,"e":1.66,"f":1.54,"g":1.43,"h":1.27},
{"s":9000,"a":3.5,"b":2.7,"c":2.3,"d":1.88,"e":1.72,"f":1.6,"g":1.46,"h":1.26},
{"s":9250,"a":3.7,"b":2.8,"c":2.15,"d":1.82,"e":1.68,"f":1.56,"g":1.44,"h":1.28},
{"s":9500,"a":3.7,"b":2.7,"c":2.2,"d":1.9,"e":1.74,"f":1.61,"g":1.47,"h":1.27},
{"s":9750,"a":3.7,"b":2.7,"c":2.1,"d":1.85,"e":1.7,"f":1.58,"g":1.45,"h":1.26},
{"s":10000,"a":3.7,"b":2.75,"c":2.05,"d":1.88,"e":1.72,"f":1.6,"g":1.46,"h":1.27}
],
"rout":[
{"s":0,"a":1.18,"b":1.18,"c":1.18,"d":1.18,"e":1.18,"f":1.18,"g":1.18,"h":1.18},
{"s":50,"a":1.2,"b":1.19,"c":1.19,"d":1.18,"e":1.18,"f":1.18,"g":1.17,"h":1.17},
{"s":100,"a":1.22,"b":1.2,"c":1.21,"d":1.19,"e":1.18,"f":1.17,"g":1.17,"h":1.16},
{"s":150,"a":1.25,"b":1.22,"c":1.22,"d":1.2,"e":1.19,"f":1.18,"g":1.16,"h":1.16},
{"s":250,"a":1.28,"b":1.24,"c":1.25,"d":1.22,"e":1.2,"f":1.19,"g":1.17,"h":1.16},
{"s":500,"a":1.35,"b":1.3,"c":1.3,"d":1.26,"e":1.23,"f":1.2,"g":1.18,"h":1.15},
{"s":750,"a":1.5,"b":1.35,"c":1.32,"d":1.3,"e":1.25,"f":1.22,"g":1.17,"h":1.16},
{"s":1000,"a":1.4,"b":1.38,"c":1.35,"d":1.28,"e":1.24,"f":1.21,"g":1.19,"h":1.15},
{"s":1250,"a":1.45,"b":1.36,"c":1.33,"d":1.32,"e":1.27,"f":1.23,"g":1.18,"h":1.16},
{"s":1500,"a":1.42,"b":1.4,"c":1.38,"d":1.3,"e":1.26,"f":1.22,"g":1.2,"h":1.15},
{"s":1750,"a":1.5,"b":1.45,"c":1.36,"d":1.35,"e":1.29,"f":1.24,"g":1.19,"h":1.17},
{"s":2000,"a":1.55,"b":1.42,"c":1.4,"d":1.33,"e":1.28,"f":1.23,"g":1.21,"h":1.16},
{"s":2250,"a":1.8,"b":1.5,"c":1.45,"d":1.38,"e":1.3,"f":1.25,"g":1.2,"h":1.15},
{"s":2500,"a":1.6,"b":1.48,"c":1.5,"d":1.36,"e":1.32,"f":1.26,"g":1.22,"h":1.17},
{"s":2750,"a":1.65,"b":1.55,"c":1.48,"d":1.4,"e":1.31,"f":1.25,"g":1.21,"h":1.16},
{"s":3000,"a":1.7,"b":1.6,"c":1.55,"d":1.38,"e":1.34,"f":1.27,"g":1.23,"h":1.18},
{"s":3250,"a":1.95,"b":1.58,"c":1.52,"d":1.42,"e":1.33,"f":1.26,"g":1.22,"h":1.17},
{"s":3500,"a":1.9,"b":1.65,"c":1.6,"d":1.45,"e":1.36,"f":1.28,"g":1.24,"h":1.16},
{"s":3750,"a":1.85,"b":1.7,"c":1.58,"d":1.43,"e":1.35,"f":1.27,"g":1.23,"h":1.18},
{"s":4000,"a":1.9,"b":1.75,"c":1.62,"d":1.48,"e":1.38,"f":1.29,"g":1.25,"h":1.17},
{"s":4250,"a":1.95,"b":1.8,"c":1.65,"d":1.5,"e":1.37,"f":1.28,"g":1.24,"h":1.19},
{"s":4500,"a":2.3,"b":1.85,"c":1.7,"d":1.47,"e":1.4,"f":1.3,"g":1.26,"h":1.18},
{"s":4750,"a":2.1,"b":2.0,"c":1.75,"d":1.52,"e":1.39,"f":1.29,"g":1.25,"h":1.17},
{"s":5000,"a":2.75,"b":2.35,"c":1.8,"d":1.55,"e":1.42,"f":1.31,"g":1.27,"h":1.19},
{"s":5250,"a":2.55,"b":2.3,"c":1.85,"d":1.5,"e":1.4,"f":1.3,"g":1.26,"h":1.18},
{"s":5500,"a":2.55,"b":2.2,"c":1.8,"d":1.58,"e":1.44,"f":1.32,"g":1.28,"h":1.2},
{"s":5750,"a":2.35,"b":2.1,"c":1.9,"d":1.55,"e":1.42,"f":1.31,"g":1.27,"h":1.19},
{"s":6000,"a":2.4,"b":2.0,"c":1.85,"d":1.6,"e":1.46,"f":1.33,"g":1.29,"h":1.18},
{"s":6250,"a":2.3,"b":1.9,"c":1.8,"d":1.62,"e":1.44,"f":1.32,"g":1.28,"h":1.2},
{"s":6500,"a":2.15,"b":1.95,"c":1.75,"d":1.58,"e":1.48,"f":1.34,"g":1.3,"h":1.19},
{"s":6750,"a":1.9,"b":2.1,"c":1.8,"d":1.65,"e":1.46,"f":1.33,"g":1.29,"h":1.21},
{"s":7000,"a":1.85,"b":2.2,"c":1.9,"d":1.6,"e":1.5,"f":1.35,"g":1.31,"h":1.2},
{"s":7250,"a":1.95,"b":2.3,"c":1.85,"d":1.68,"e":1.48,"f":1.34,"g":1.3,"h":1.19},
{"s":7500,"a":1.9,"b":2.4,"c":1.95,"d":1.65,"e":1.52,"f":1.36,"g":1.32,"h":1.21},
{"s":7750,"a":2.0,"b":2.75,"c":2.1,"d":1.7,"e":1.5,"f":1.35,"g":1.31,"h":1.2},
{"s":8000,"a":1.95,"b":2.4,"c":2.0,"d":1.75,"e":1.54,"f":1.37,"g":1.33,"h":1.22},
{"s":8250,"a":2.05,"b":2.3,"c":1.95,"d":1.68,"e":1.52,"f":1.36,"g":1.32,"h":1.21},
{"s":8500,"a":2.0,"b":2.25,"c":1.9,"d":1.72,"e":1.55,"f":1.38,"g":1.34,"h":1.2},
{"s":8750,"a":1.95,"b":2.2,"c":2.0,"d":1.7,"e":1.53,"f":1.37,"g":1.33,"h":1.22},
{"s":9000,"a":2.1,"b":2.3,"c":1.95,"d":1.75,"e":1.56,"f":1.39,"g":1.35,"h":1.21},
{"s":9250,"a":2.05,"b":2.35,"c":2.05,"d":1.72,"e":1.54,"f":1.38,"g":1.34,"h":1.23},
{"s":9500,"a":2.0,"b":2.55,"c":2.1,"d":1.78,"e":1.57,"f":1.4,"g":1.36,"h":1.22},
{"s":9750,"a":2.1,"b":2.3,"c":2.0,"d":1.75,"e":1.55,"f":1.39,"g":1.35,"h":1.21},
{"s":10000,"a":2.05,"b":2.25,"c":2.15,"d":1.8,"e":1.56,"f":1.4,"g":1.36,"h":1.22}
]
},
"vconcat":[
{"width":775,"height":50.85,"data":{"name":"q1"},"transform":[{"fold":["a","b","c","d","e","f","g","h"],"as":["w","v"]}],
"encoding":{"x":{"field":"s","type":"quantitative","scale":{"domain":[0,10000],"nice":false},"axis":{"values":[0,2000,4000,6000,8000,10000],"labels":false,"title":null}},
"y":{"field":"v","type":"quantitative","scale":{"domain":[0.086,0.359],"nice":false,"zero":false},"axis":{"values":[0.1,0.2,0.3],"format":".1f","title":"q1"}},"detail":{"field":"w"}},
"layer":[
{"transform":[{"filter":{"field":"w","oneOf":["b","c","d","e","f","g"]}}],"mark":{"type":"line","strokeWidth":3.5,"opacity":0.62}},
{"transform":[{"filter":{"field":"w","oneOf":["a","h"]}}],"mark":{"type":"line","strokeWidth":1.5,"opacity":0.35}}]},
{"width":775,"height":50.85,"data":{"name":"q2"},"transform":[{"fold":["a","b","c","d","e","f","g","h"],"as":["w","v"]}],
"encoding":{"x":{"field":"s","type":"quantitative","scale":{"domain":[0,10000],"nice":false},"axis":{"values":[0,2000,4000,6000,8000,10000],"labels":false,"title":null}},
"y":{"field":"v","type":"quantitative","scale":{"domain":[0.136,0.59],"nice":false,"zero":false},"axis":{"values":[0.25,0.5],"format":".2f","title":"q2"}},"detail":{"field":"w"}},
"layer":[
{"transform":[{"filter":{"field":"w","oneOf":["b","c","d","e","f","g"]}}],"mark":{"type":"line","strokeWidth":3.5,"opacity":0.62}},
{"transform":[{"filter":{"field":"w","oneOf":["a","h"]}}],"mark":{"type":"line","strokeWidth":1.5,"opacity":0.35}}]},
{"width":775,"height":50.85,"data":{"name":"rp"},"transform":[{"fold":["a","b","c","d","e","f","g","h"],"as":["w","v"]}],
"encoding":{"x":{"field":"s","type":"quantitative","scale":{"domain":[0,10000],"nice":false},"axis":{"values":[0,2000,4000,6000,8000,10000],"labels":false,"title":null}},
"y":{"field":"v","type":"quantitative","scale":{"domain":[0.097,0.1082],"nice":false,"zero":false},"axis":{"values":[0.1,0.105],"format":".3f","title":"rp_rs"}},"detail":{"field":"w"}},
"layer":[
{"transform":[{"filter":{"field":"w","oneOf":["a","b","c","d","e","f"]}}],"mark":{"type":"line","strokeWidth":3.5,"opacity":0.62}},
{"transform":[{"filter":{"field":"w","oneOf":["g","h"]}}],"mark":{"type":"line","strokeWidth":1.5,"opacity":0.35}}]},
{"width":775,"height":50.85,"data":{"name":"ars"},"transform":[{"fold":["a","b","c","d","e","f","g","h"],"as":["w","v"]}],
"encoding":{"x":{"field":"s","type":"quantitative","scale":{"domain":[0,10000],"nice":false},"axis":{"values":[0,2000,4000,6000,8000,10000],"labels":false,"title":null}},
"y":{"field":"v","type":"quantitative","scale":{"domain":[3.954,4.264],"nice":false,"zero":false},"axis":{"values":[4.0,4.25],"format":".2f","title":"a_rs"}},"detail":{"field":"w"}},
"layer":[
{"transform":[{"filter":{"field":"w","oneOf":["a","b","c","d","e","f","g"]}}],"mark":{"type":"line","strokeWidth":3.5,"opacity":0.62}},
{"transform":[{"filter":{"field":"w","oneOf":["h"]}}],"mark":{"type":"line","strokeWidth":1.5,"opacity":0.35}}]},
{"width":775,"height":50.85,"data":{"name":"b"},"transform":[{"fold":["a","b","c","d","e","f","g","h"],"as":["w","v"]}],
"encoding":{"x":{"field":"s","type":"quantitative","scale":{"domain":[0,10000],"nice":false},"axis":{"values":[0,2000,4000,6000,8000,10000],"labels":false,"title":null}},
"y":{"field":"v","type":"quantitative","scale":{"domain":[-0.012,0.314],"nice":false,"zero":false},"axis":{"values":[0,0.25],"format":".2f","title":"b"}},"detail":{"field":"w"}},
"layer":[
{"transform":[{"filter":{"field":"w","oneOf":["b","c","d","e","f","g"]}}],"mark":{"type":"line","strokeWidth":3.5,"opacity":0.62}},
{"transform":[{"filter":{"field":"w","oneOf":["a","h"]}}],"mark":{"type":"line","strokeWidth":1.5,"opacity":0.35}}]},
{"width":775,"height":50.85,"data":{"name":"theta"},"transform":[{"fold":["a","b","c","d","e","f","g","h"],"as":["w","v"]}],
"encoding":{"x":{"field":"s","type":"quantitative","scale":{"domain":[0,10000],"nice":false},"axis":{"values":[0,2000,4000,6000,8000,10000],"labels":false,"title":null}},
"y":{"field":"v","type":"quantitative","scale":{"domain":[-0.034,0.727],"nice":false,"zero":false},"axis":{"values":[0,0.5],"format":".1f","title":"theta"}},"detail":{"field":"w"}},
"layer":[
{"transform":[{"filter":{"field":"w","oneOf":["d","e","f","g","h"]}}],"mark":{"type":"line","strokeWidth":3.5,"opacity":0.62}},
{"transform":[{"filter":{"field":"w","oneOf":["a","b","c"]}}],"mark":{"type":"line","strokeWidth":1.5,"opacity":0.35}}]},
{"width":775,"height":50.85,"data":{"name":"phi"},"transform":[{"fold":["a","b","c","d","e","f","g","h"],"as":["w","v"]}],
"encoding":{"x":{"field":"s","type":"quantitative","scale":{"domain":[0,10000],"nice":false},"axis":{"values":[0,2000,4000,6000,8000,10000],"labels":false,"title":null}},
"y":{"field":"v","type":"quantitative","scale":{"domain":[-0.08,1.65],"nice":false,"zero":false},"axis":{"values":[0,1],"format":"d","title":"phi"}},"detail":{"field":"w"}},
"layer":[
{"mark":{"type":"line","strokeWidth":3.5,"opacity":0.58}}]},
{"width":775,"height":50.85,"data":{"name":"rin"},"transform":[{"fold":["a","b","c","d","e","f","g","h"],"as":["w","v"]}],
"encoding":{"x":{"field":"s","type":"quantitative","scale":{"domain":[0,10000],"nice":false},"axis":{"values":[0,2000,4000,6000,8000,10000],"labels":false,"title":null}},
"y":{"field":"v","type":"quantitative","scale":{"domain":[0.853,5.51],"nice":false,"zero":false},"axis":{"values":[2.5,5.0],"format":".1f","title":"r_in"}},"detail":{"field":"w"}},
"layer":[
{"transform":[{"filter":{"field":"w","oneOf":["d","e","f","g","h"]}}],"mark":{"type":"line","strokeWidth":3.5,"opacity":0.62}},
{"transform":[{"filter":{"field":"w","oneOf":["a","b","c"]}}],"mark":{"type":"line","strokeWidth":1.5,"opacity":0.35}}]},
{"width":775,"height":50.85,"data":{"name":"rout"},"transform":[{"fold":["a","b","c","d","e","f","g","h"],"as":["w","v"]}],
"encoding":{"x":{"field":"s","type":"quantitative","scale":{"domain":[0,10000],"nice":false},"axis":{"values":[0,2000,4000,6000,8000,10000],"format":"d","title":"step number","titlePadding":5}},
"y":{"field":"v","type":"quantitative","scale":{"domain":[1.04,2.837],"nice":false,"zero":false},"axis":{"values":[1.5,2.0,2.5],"format":".1f","title":"r_out"}},"detail":{"field":"w"}},
"layer":[
{"transform":[{"filter":{"field":"w","oneOf":["d","e","f","g","h"]}}],"mark":{"type":"line","strokeWidth":3.5,"opacity":0.62}},
{"transform":[{"filter":{"field":"w","oneOf":["a","b","c"]}}],"mark":{"type":"line","strokeWidth":1.5,"opacity":0.35}}]}
]
}
